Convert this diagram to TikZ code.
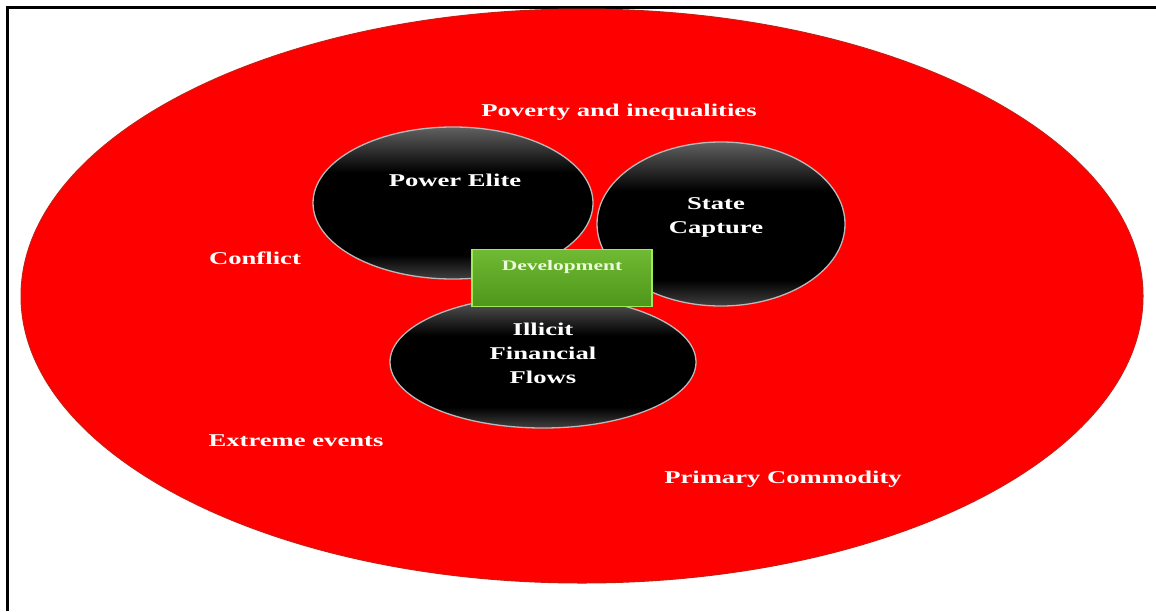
\documentclass[tikz,border=0pt]{standalone}
\usepackage{fontspec}
\usepackage{xcolor}
\setmainfont{Liberation Serif}[FakeStretch=1.48]

\definecolor{hotred}{RGB}{255,0,0}
\definecolor{rimred}{RGB}{200,30,20}
\definecolor{leafgreen}{RGB}{112,186,52}
\definecolor{darkleaf}{RGB}{78,150,26}
\definecolor{limerim}{RGB}{160,235,90}
\definecolor{paleleaf}{RGB}{235,250,220}

% glossy black: grey rim at top and bottom, black body
\pgfdeclareverticalshading{glossblack}{100bp}{color(0bp)=(black!75);
	color(25bp)=(black!75); color(33bp)=(black); color(60bp)=(black);
	color(75bp)=(black!62); color(100bp)=(black!62)}

\tikzset{
	blackball/.style={draw=gray!55, line width=1.3pt, shading=glossblack},
	label/.style={text=white, font=\bfseries\fontsize{18}{24}\selectfont, align=center},
	devbox/.style={draw=limerim, line width=1.5pt, top color=leafgreen,
		bottom color=darkleaf, minimum width=180pt, minimum height=57pt}
}

\begin{document}
\begin{tikzpicture}[x=1pt,y=-1pt]
	\tikzstyle{every node}+=[inner sep=0pt]
	\useasboundingbox (0,0) rectangle (1156,611);
	\fill [white] (0,0) rectangle (1156,611);
	% frame on two sides
	\draw [black, line width=3pt] (7,611) -- (7,7) -- (1156,7);
	% the outer field
	\draw [rimred, fill=hotred, line width=1pt] (582,296) ellipse [x radius=561, y radius=287];
	% the three discs
	\path [blackball] (453,203) ellipse [x radius=140, y radius=76];
	\path [blackball] (721,224) ellipse [x radius=124, y radius=82];
	\path [blackball] (543,362) ellipse [x radius=153, y radius=66];
	\node [devbox] (devbox) at (562,278) {};
	% texts
	\node [label] (poverty) at (619,112) {Poverty and inequalities};
	\node [label] (elite) at (455,180) {Power Elite};
	\node [label] (capture) at (716,217) {State\\Capture};
	\node [label] (conflict) at (255,258) {Conflict};
	\node [label, text=paleleaf, font=\bfseries\fontsize{14.5}{18}\selectfont] (dev) at (562,267) {Development};
	\node [label] (flows) at (543,353) {Illicit\\Financial\\Flows};
	\node [label] (extreme) at (296,441) {Extreme events};
	\node [label] (commodity) at (783,479) {Primary Commodity};
\end{tikzpicture}
\end{document}
